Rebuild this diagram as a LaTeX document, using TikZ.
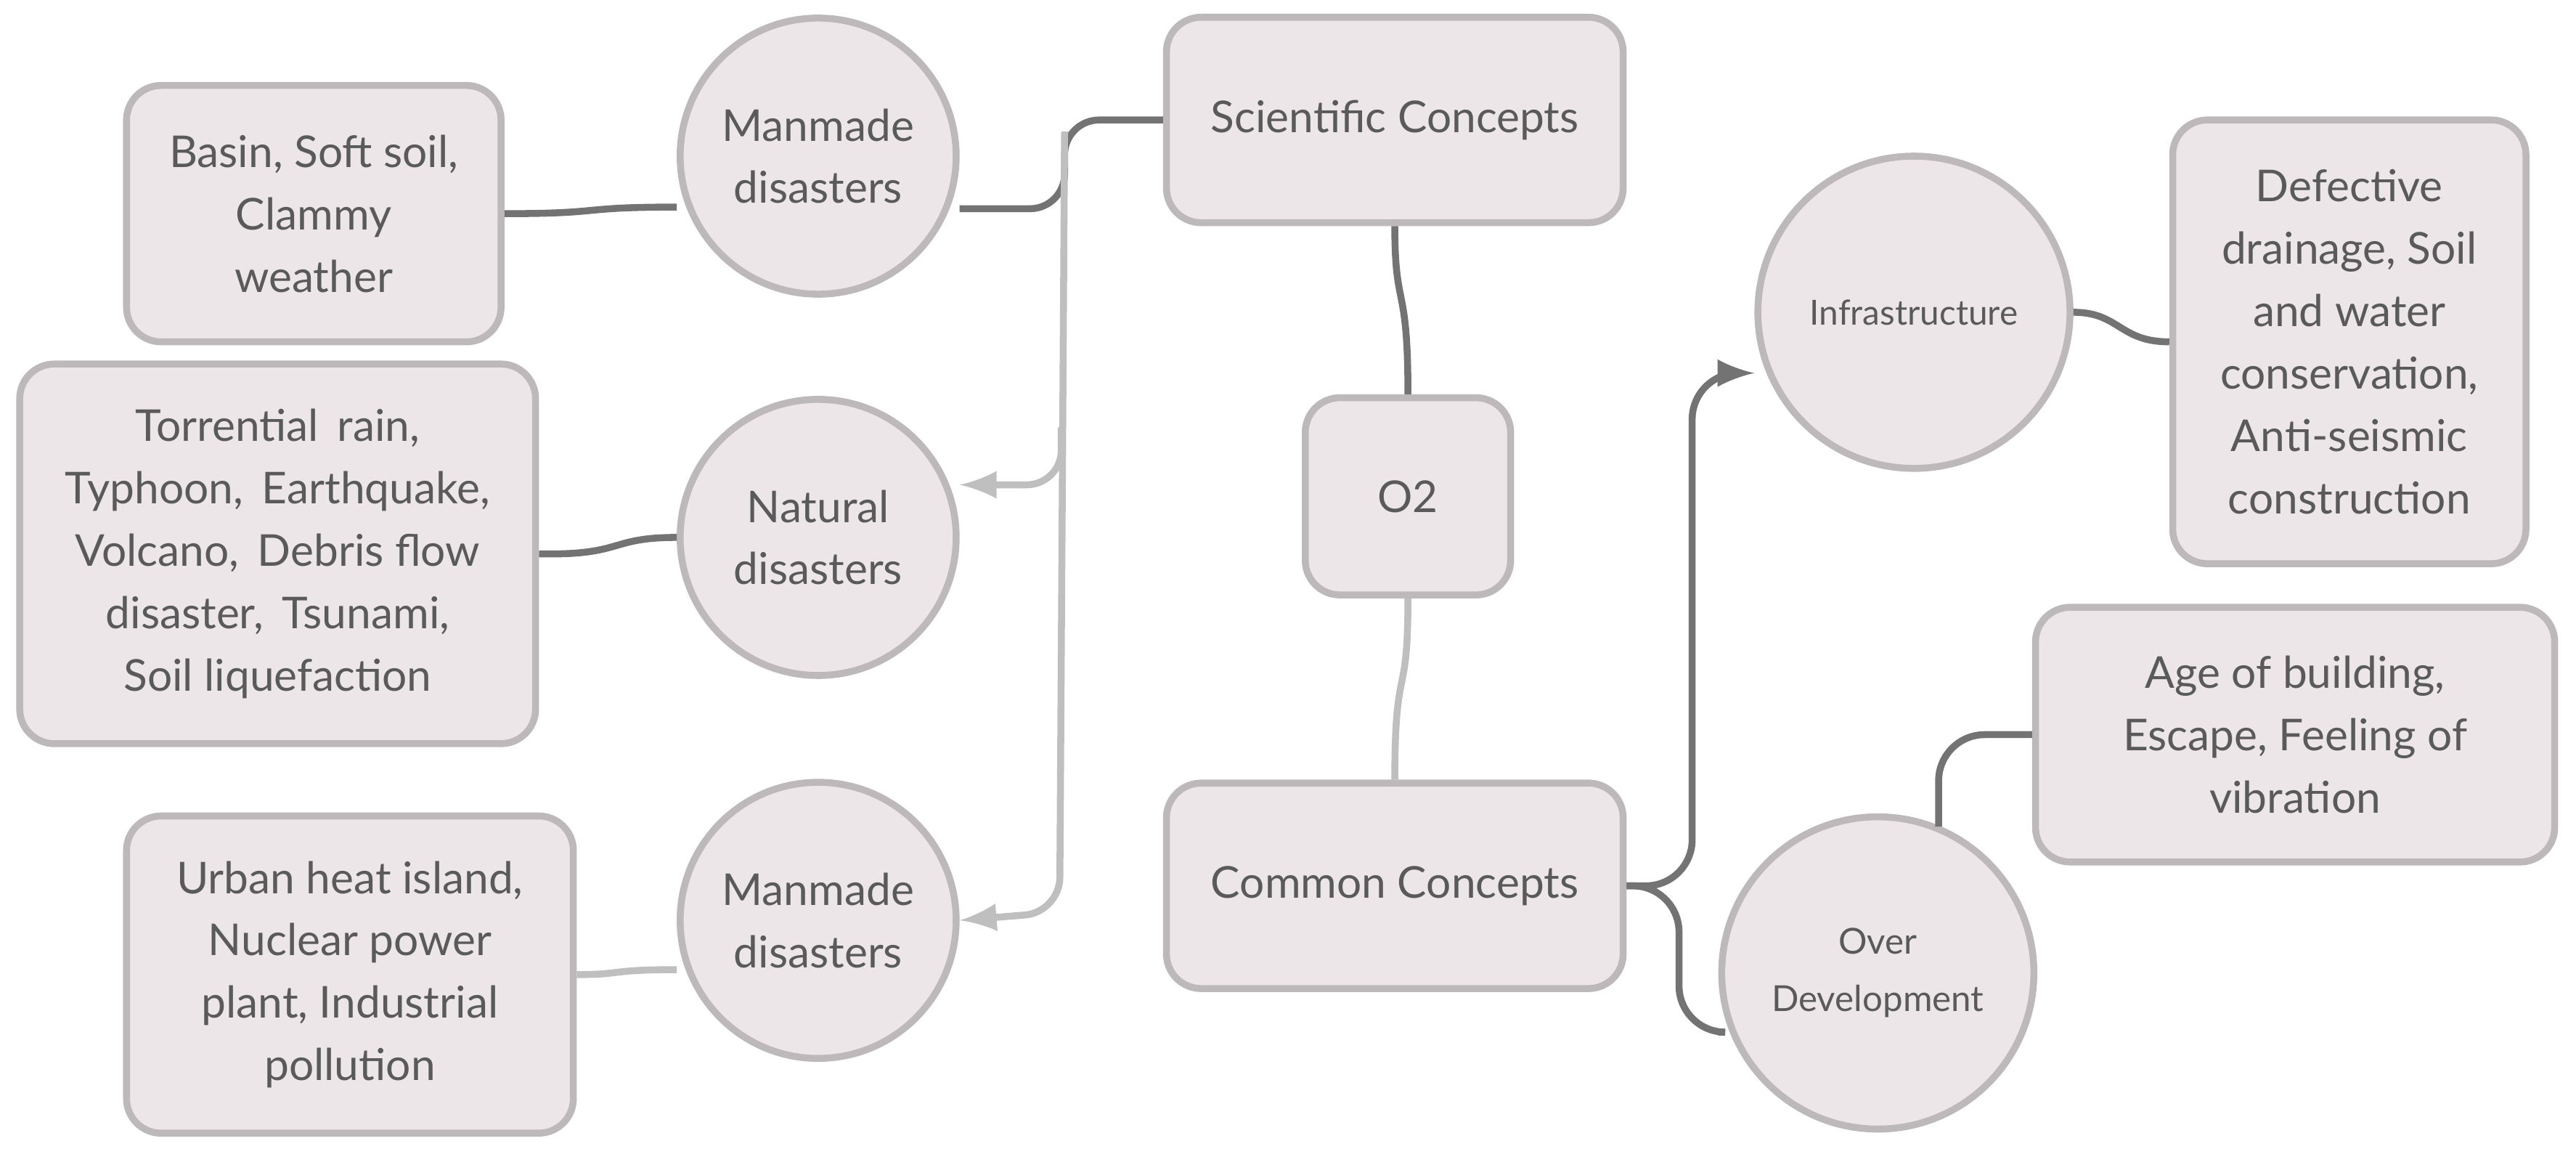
\documentclass[tikz,border=0pt]{standalone}
\usepackage{fontspec}
\setmainfont{Lato}
\usetikzlibrary{arrows,positioning,calc}
\definecolor{boxfill}{HTML}{EDE6E8}
\definecolor{boxdraw}{HTML}{BDB8BA}
\definecolor{txt}{HTML}{5A5A5A}
\tikzset{
    block/.style={
        draw=boxdraw,
        fill=boxfill,
        line width=1.2pt,
        rectangle,
        rounded corners=6pt,
        align=center,
        text=txt,
        font=\fontsize{7.6}{10.8}\selectfont
    },
    topic/.style={
        draw=boxdraw,
        fill=boxfill,
        line width=1.2pt,
        circle,
        align=center,
        text=txt,
        inner sep=0pt,
        font=\fontsize{7.6}{10.8}\selectfont
    },
    dark/.style={
        draw=black!55,
        line width=1.2pt
    },
    light/.style={
        draw=black!25,
        line width=1.2pt
    },
}
\begin{document}
\begin{tikzpicture}[x=1cm,y=-1cm]
        \useasboundingbox (0,0) rectangle (15.68,7.04);
        % blocks
        \node[block, minimum width=2.78cm, minimum height=1.25cm] (sci) at (8.49,0.73) {Scientific Concepts};
        \node[block, minimum width=1.25cm, minimum height=1.2cm] (o2) at (8.57,3.02) {O2};
        \node[block, minimum width=2.78cm, minimum height=1.25cm] (common) at (8.49,5.39) {Common Concepts};
        \node[topic, minimum size=1.68cm] (man1) at (4.98,0.95) {Manmade\\disasters};
        \node[topic, minimum size=1.68cm] (nat) at (4.98,3.27) {Natural\\disasters};
        \node[topic, minimum size=1.68cm] (man2) at (4.98,5.60) {Manmade\\disasters};
        \node[block, minimum width=2.28cm, minimum height=1.56cm] (basin) at (1.91,1.30) {Basin, Soft soil,\\Clammy\\weather};
        \node[block, minimum width=3.14cm, minimum height=2.31cm] (rain) at (1.69,3.37) {Torrential\, rain,\\Typhoon,\, Earthquake,\\Volcano,\, Debris flow\\disaster,\, Tsunami,\\Soil liquefaction};
        \node[block, minimum width=2.72cm, minimum height=1.93cm] (urban) at (2.13,5.93) {Urban heat island,\\Nuclear power\\plant, Industrial\\pollution};
        \node[topic, minimum size=1.9cm, font=\fontsize{6}{8}\selectfont] (infra) at (11.65,1.90) {Infrastructure};
        \node[topic, minimum size=1.9cm, font=\fontsize{6.2}{10}\selectfont] (over) at (11.43,5.92) {Over\\Development};
        \node[block, minimum width=2.15cm, minimum height=2.70cm] (defect) at (14.30,2.08) {Defective\\drainage, Soil\\and water\\conservation,\\Anti-seismic\\construction};
        \node[block, minimum width=3.16cm, minimum height=1.55cm] (age) at (13.97,4.47) {Age of building,\\Escape, Feeling of\\vibration};

        % branch coordinates
        \coordinate (split) at (6.48,0.80);
        \coordinate (inNat) at ($(nat.east)+(0,-0.32)$);
        \coordinate (inMan) at ($(man2.east)+(0,0)$);

        % lines
        \draw[dark, rounded corners=6pt] (sci.west) -- (6.48,0.73) -- (6.48,1.27) -- (man1.east |- 0,1.27);
        \draw[light, -latex, rounded corners=6pt] (split) -- (6.45,5.55) -- (inMan);
        \draw[light, -latex, rounded corners=6pt] (6.46,2.60) -- (6.46,2.95) -- (inNat);
        \draw[dark] (basin.east) .. controls (3.7,1.30) and (3.5,1.26) .. (man1.west |- 0,1.26);
        \draw[dark] (rain.east) .. controls (3.8,3.38) and (3.7,3.27) .. (nat.west);
        \draw[light] (urban.east |- 0,5.93) .. controls (3.8,5.93) and (3.7,5.90) .. (man2.west |- 0,5.90);
        \draw[dark] (sci.south) .. controls (8.49,1.9) and (8.57,1.7) .. (o2.north);
        \draw[light] (o2.south) .. controls (8.57,4.3) and (8.49,4.0) .. (common.north);
        \draw[dark, -latex, rounded corners=8pt] (common.east) -- (10.30,5.39) -- (10.30,2.27) -- (infra.west |- 0,2.27);
        \draw[dark, rounded corners=8pt] (common.east) -- (10.22,5.39) -- (10.22,6.28) -- (over.west |- 0,6.28);
        \draw[dark, rounded corners=8pt] (11.80,5.03) -- (11.80,4.47) -- (age.west);
        \draw[dark] (infra.east) .. controls (12.9,1.90) and (12.9,2.08) .. (defect.west);
    \end{tikzpicture}
\end{document}
